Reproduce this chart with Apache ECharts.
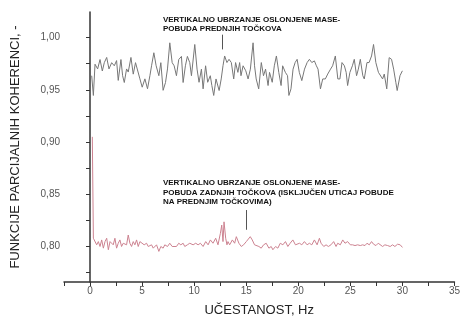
<!DOCTYPE html>
<html>
<head>
<meta charset="utf-8">
<script src="https://cdn.jsdelivr.net/npm/echarts@6/dist/echarts.min.js"></script>
<style>
  html, body { margin: 0; padding: 0; background: #fff; }
  #chart { width: 463px; height: 322px; }
</style>
</head>
<body>
<div id="chart"></div>
<script>
// coherence, front wheel excitation (gray)
var frontFreq = [0.16,0.32,0.48,0.73,0.96,1.18,1.37,1.6,1.82,2.08,2.33,2.55,2.71,2.97,3.13,3.29,3.51,3.67,3.93,4.15,4.37,4.56,4.79,5.01,5.27,5.52,5.75,5.91,6.13,6.35,6.61,6.8,7.02,7.25,7.44,7.66,7.89,8.08,8.3,8.52,8.78,8.94,9.16,9.35,9.58,9.74,
  10.06,10.28,10.47,10.7,10.86,11.1,11.3,11.55,11.7,11.88,12.1,12.4,12.6,12.77,12.93,13.15,13.35,13.57,13.8,13.98,14.2,14.37,14.5,14.7,14.96,15.18,15.4,15.66,15.8,15.96,16.2,16.45,16.66,16.86,17.1,17.24,17.5,17.7,17.9,18.13,18.35,18.5,18.76,18.97,19.1,19.3,19.5,19.7,
  19.89,20.1,20.34,20.6,20.85,21.07,21.3,21.55,21.74,21.9,22.13,22.35,22.6,22.83,23.1,23.3,23.56,23.8,24.0,24.2,24.43,24.6,24.74,24.96,25.2,25.38,25.6,25.77,25.96,26.2,26.34,26.6,26.8,27.04,27.23,27.45,27.7,27.87,28.1,28.26,28.5,28.73,28.96,29.16,29.37,29.5,29.77,30.0];
var frontCoh = [0.9635,0.9446,0.9745,0.970,0.979,0.968,0.976,0.981,0.970,0.976,0.973,0.978,0.959,0.979,0.9635,0.957,0.970,0.967,0.981,0.965,0.976,0.976,0.9605,0.9525,0.9605,0.951,0.9635,0.973,0.9855,0.973,0.9635,0.976,0.9495,0.957,0.970,0.995,0.976,0.973,0.9635,0.979,0.982,0.957,0.973,0.982,0.976,0.9635,
  0.9934,0.9698,0.9572,0.9698,0.9509,0.9730,0.9572,0.9635,0.9541,0.9446,0.9604,0.9493,0.9604,0.9730,0.9824,0.9761,0.9792,0.9761,0.9604,0.9761,0.9667,0.9761,0.9635,0.9730,0.9682,0.9604,0.9698,0.995,0.9730,0.9604,0.9509,0.9761,0.9635,0.9698,0.9541,0.9667,0.9572,0.9730,0.9824,0.9667,0.9541,0.9730,0.9667,0.9635,0.9446,0.9509,0.9698,0.9761,
  0.9792,0.9667,0.9588,0.9698,0.9761,0.9792,0.9761,0.9777,0.9730,0.9698,0.9509,0.9604,0.9604,0.9651,0.9698,0.9730,0.9824,0.9604,0.9604,0.9761,0.9730,0.9667,0.9541,0.9667,0.9730,0.9792,0.9635,0.9698,0.9792,0.9635,0.9604,0.9761,0.9761,0.9824,0.9934,0.9761,0.9667,0.9667,0.9604,0.9651,0.9509,0.9808,0.9792,0.9698,0.9572,0.9493,0.9635,0.9682];

// coherence, rear wheel excitation (red)
var rearFreq = [0.22,0.32,0.48,0.64,0.80,0.96,1.12,1.28,1.44,1.60,1.76,1.92,2.08,2.23,2.39,2.55,2.71,2.87,3.03,3.19,3.35,3.51,3.67,3.83,3.99,4.15,4.31,4.47,4.63,4.79,4.95,5.20,5.43,5.59,5.91,6.07,6.39,6.61,6.80,7.02,7.18,7.44,7.66,7.89,8.08,8.30,8.52,8.72,8.94,9.10,9.35,9.58,9.90,
  10.15,10.38,10.60,10.86,11.11,11.34,11.56,11.81,12.07,12.29,12.52,12.65,12.77,12.87,13.03,13.15,13.25,13.41,13.67,13.89,14.05,14.30,14.53,14.75,15.01,15.17,15.39,15.58,15.80,15.96,16.22,16.44,16.67,16.92,17.18,17.40,17.56,17.82,18.04,18.27,18.52,18.77,19.00,19.22,19.48,19.73,
  19.89,20.12,20.34,20.59,20.85,21.07,21.30,21.55,21.81,22.03,22.19,22.45,22.67,22.89,23.14,23.40,23.63,23.79,24.04,24.27,24.49,24.74,25.00,25.22,25.45,25.70,25.96,26.18,26.41,26.60,26.82,27.04,27.23,27.46,27.68,27.87,28.10,28.32,28.58,28.83,29.06,29.28,29.54,29.79,30.01];
var rearCoh = [0.905,0.8079,0.8063,0.8016,0.8047,0.8000,0.8063,0.7984,0.8047,0.8079,0.7969,0.8047,0.8063,0.8016,0.8079,0.7984,0.8031,0.8063,0.8000,0.8031,0.8047,0.8016,0.8110,0.8031,0.8000,0.8047,0.8016,0.8063,0.8000,0.8047,0.8031,0.8016,0.8031,0.8000,0.8016,0.7984,0.8016,0.7953,0.8000,0.7984,0.8016,0.8000,0.8031,0.8000,0.8016,0.8000,0.8031,0.8016,0.8031,0.8000,0.8016,0.8031,0.8016,
  0.8031,0.8016,0.8031,0.8000,0.8047,0.8016,0.8063,0.8031,0.8079,0.8016,0.8126,0.8205,0.8047,0.8236,0.8079,0.8016,0.8047,0.8016,0.8063,0.8031,0.8094,0.8031,0.8000,0.8016,0.8047,0.8063,0.8094,0.8063,0.8016,0.8031,0.8000,0.7984,0.8016,0.8031,0.7984,0.8000,0.7969,0.8000,0.7984,0.8031,0.8016,0.8047,0.8000,0.8031,0.8063,0.8016,
  0.8000,0.8031,0.8016,0.8047,0.8016,0.8031,0.8016,0.8063,0.8016,0.8079,0.8031,0.8000,0.8016,0.8000,0.8016,0.8047,0.8000,0.8031,0.8016,0.8063,0.8031,0.8047,0.8016,0.8016,0.8009,0.8016,0.8009,0.8016,0.8009,0.8031,0.8016,0.8047,0.8022,0.8009,0.8031,0.8016,0.8000,0.8016,0.8009,0.8000,0.8016,0.8000,0.8022,0.8016,0.7991];

var xTicks = [-2.5,0,2.5,5,7.5,10,12.5,15,17.5,20,22.5,25,27.5,30,32.5,35];
var xLabels = [0,5,10,15,20,25,30,35];
var yTicks = [0.775,0.8,0.825,0.85,0.875,0.9,0.925,0.95,0.975,1.0];
var yLabels = [0.8,0.85,0.9,0.95,1.0];

var frontNote = ['VERTIKALNO UBRZANJE OSLONJENE MASE-', 'POBUDA PREDNJIH TOČKOVA'];
var rearNote = ['VERTIKALNO UBRZANJE OSLONJENE MASE-', 'POBUDA ZADNJIH TOČKOVA (ISKLJUČEN UTICAJ POBUDE', 'NA PREDNJIM TOČKOVIMA)'];

function pairs(xs, ys) {
    var out = [];
    for (var i = 0; i < xs.length; i++) out.push([xs[i], ys[i]]);
    return out;
}

var chart = echarts.init(document.getElementById('chart'));
var font = '"Liberation Sans", Arial, sans-serif';

chart.setOption({
    animation: false,
    grid: { left: 64, top: 12, right: 8, bottom: 36 },
    xAxis: {
        type: 'value', min: -2.5, max: 35,
        name: 'UČESTANOST, Hz', nameLocation: 'middle', nameGap: 22,
        nameTextStyle: { fontFamily: font, fontSize: 13, color: '#222' },
        axisLine: { lineStyle: { color: '#333', width: 1.5 } },
        axisTick: { customValues: xTicks, length: 4, lineStyle: { color: '#333' } },
        axisLabel: { customValues: xLabels, fontFamily: font, fontSize: 10, color: '#555', margin: 4 },
        splitLine: { show: false }
    },
    yAxis: {
        type: 'value', min: 0.766, max: 1.0245,
        name: 'FUNKCIJE PARCIJALNIH KOHERENCI, -', nameLocation: 'middle', nameGap: 42,
        nameTextStyle: { fontFamily: font, fontSize: 13, color: '#222' },
        axisLine: { show: true, lineStyle: { color: '#333', width: 1.5 } },
        axisTick: { show: true, customValues: yTicks, length: 4, lineStyle: { color: '#333' } },
        axisLabel: {
            customValues: yLabels, fontFamily: font, fontSize: 10, color: '#555', margin: 4,
            formatter: function (v) { return v.toFixed(2).replace('.', ','); }
        },
        splitLine: { show: false }
    },
    series: [
        {
            name: 'prednji', type: 'line', symbol: 'none',
            lineStyle: { color: '#777777', width: 1 },
            data: pairs(frontFreq, frontCoh),
            markLine: {
                symbol: 'none', silent: true, label: { show: false },
                lineStyle: { color: '#555', width: 1, type: 'solid' },
                data: [[{ coord: [12.7, 1.0028] }, { coord: [12.7, 0.9887] }]]
            }
        },
        {
            name: 'zadnji', type: 'line', symbol: 'none',
            lineStyle: { color: '#cc8290', width: 1 },
            data: pairs(rearFreq, rearCoh),
            markLine: {
                symbol: 'none', silent: true, label: { show: false },
                lineStyle: { color: '#555', width: 1, type: 'solid' },
                data: [[{ coord: [15.0, 0.8349] }, { coord: [15.0, 0.8160] }]]
            }
        }
    ]
});

// annotation text anchored in data coordinates
function noteGraphic(lines, at) {
    var p = chart.convertToPixel({ gridIndex: 0 }, at);
    return {
        type: 'text', left: p[0], top: p[1], silent: true,
        style: {
            text: lines.join('\n'), fill: '#111', font: 'bold 8px ' + font, lineHeight: 9.4
        }
    };
}

chart.setOption({
    graphic: [
        noteGraphic(frontNote, [7.0, 1.0245 - 3 / 1060]),
        noteGraphic(rearNote, [7.0, 0.8 + (250 - 181) / 1060])
    ]
});
</script>
</body>
</html>
